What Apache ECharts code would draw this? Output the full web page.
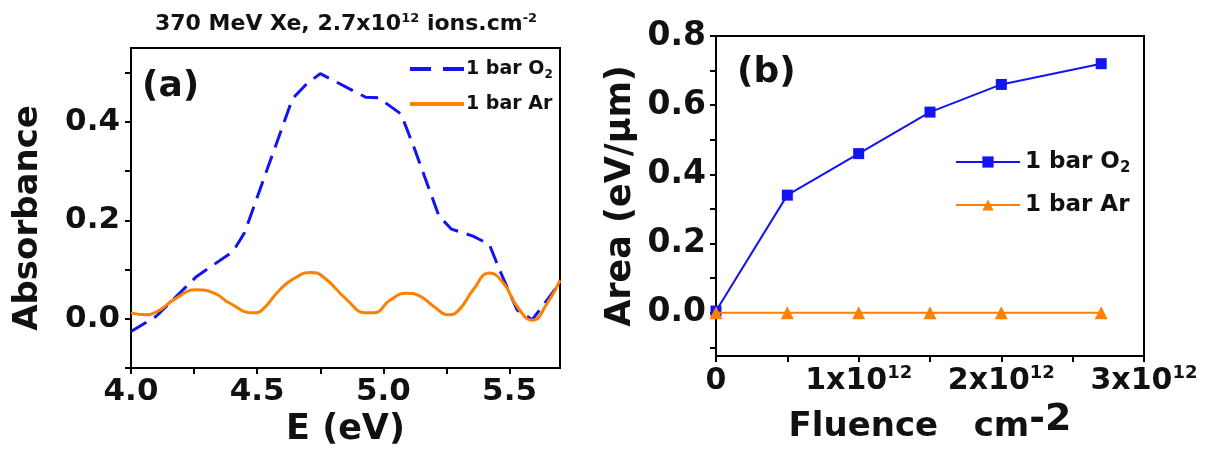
<!DOCTYPE html>
<html>
<head>
<meta charset="utf-8">
<script src="https://cdn.jsdelivr.net/npm/echarts@6/dist/echarts.min.js"></script>
<style>
html,body{margin:0;padding:0;background:#fff;}
#chart{width:1219px;height:452px;}
</style>
</head>
<body>
<div id="chart"></div>
<script>
// Panel (a): absorbance spectra
const energyO2 = [4.0, 4.10, 4.26, 4.405, 4.45, 4.54, 4.64, 4.69, 4.75, 4.93, 4.98, 5.07, 5.12, 5.22, 5.27, 5.355, 5.42, 5.46, 5.53, 5.59, 5.65, 5.69];
const absO2 = [-0.026, 0.005, 0.086, 0.137, 0.175, 0.304, 0.447, 0.474, 0.498, 0.45, 0.449, 0.416, 0.35, 0.209, 0.182, 0.168, 0.151, 0.10, 0.018, -0.002, 0.039, 0.066];
const energyAr = [4.0, 4.06, 4.115, 4.17, 4.26, 4.33, 4.39, 4.485, 4.52, 4.59, 4.66, 4.71, 4.76, 4.855, 4.93, 4.96, 5.03, 5.09, 5.145, 5.20, 5.26, 5.30, 5.356, 5.42, 5.475, 5.53, 5.59, 5.65, 5.70];
const absAr = [0.012, 0.008, 0.018, 0.039, 0.059, 0.052, 0.032, 0.012, 0.018, 0.059, 0.086, 0.094, 0.086, 0.039, 0.012, 0.012, 0.039, 0.052, 0.046, 0.025, 0.008, 0.018, 0.059, 0.093, 0.073, 0.025, -0.003, 0.032, 0.078];

// Panel (b): integrated area vs fluence
const fluence = [0, 0.5e12, 1e12, 1.5e12, 2e12, 2.7e12];
const areaO2 = [0.005, 0.34, 0.46, 0.58, 0.66, 0.72];
const areaAr = [0, 0, 0, 0, 0, 0];

// Tick labels
const ticksA_y = [0, 0.2, 0.4];
const ticksA_x = [4.0, 4.5, 5.0, 5.5];
const ticksB_y = [0, 0.2, 0.4, 0.6, 0.8];
const ticksB_x = [0, 1e12, 2e12, 3e12];

const FONT = 'DejaVu Sans';
const BLUE = '#1414f0';
const ORANGE = '#ff8000';

const zip = (xs, ys) => xs.map((x, i) => [x, ys[i]]);
const near = (v, arr) => arr.some(t => Math.abs(t - v) < 1e-9 * Math.max(1, Math.abs(t)));

const axisCommon = {
  axisLine: { show: true, onZero: false, lineStyle: { color: '#000', width: 2 } },
  axisTick: { show: true, inside: false, length: 6, lineStyle: { color: '#000', width: 2 } },
  splitLine: { show: false }
};

const chart = echarts.init(document.getElementById('chart'), null, { renderer: 'canvas' });

const option = {
  animation: false,
  backgroundColor: '#fff',
  title: {
    text: '370 MeV Xe, 2.7x10{sup|12} ions.cm{sup|-2}',
    left: 150, top: 7,
    textStyle: {
      fontFamily: FONT, fontWeight: 'bold', fontSize: 22, color: '#111', lineHeight: 24,
      rich: {
        sup: { fontFamily: FONT, fontWeight: 'bold', fontSize: 13, verticalAlign: 'top', lineHeight: 14, color: '#111' }
      }
    }
  },
  grid: [
    { left: 131, top: 48, width: 429, height: 320, show: true, borderColor: '#000', borderWidth: 2, containLabel: false },
    { left: 716, top: 36, width: 428, height: 320, show: true, borderColor: '#000', borderWidth: 2, containLabel: false }
  ],
  xAxis: [
    Object.assign({}, axisCommon, {
      type: 'value', gridIndex: 0, min: 4.0, max: 5.7, interval: 0.25,
      axisLabel: {
        showMaxLabel: false, margin: 8,
        fontFamily: FONT, fontWeight: 'bold', fontSize: 31, color: '#111',
        formatter: v => near(v, ticksA_x) ? v.toFixed(1) : ''
      },
      name: 'E (eV)', nameLocation: 'middle', nameGap: 44,
      nameTextStyle: { fontFamily: FONT, fontWeight: 'bold', fontSize: 35, color: '#111' }
    }),
    Object.assign({}, axisCommon, {
      type: 'value', gridIndex: 1, min: 0, max: 3e12, interval: 0.5e12,
      axisLabel: {
        margin: 8, fontFamily: FONT, fontWeight: 'bold', fontSize: 30, color: '#111',
        formatter: v => {
          if (!near(v, ticksB_x)) return '';
          if (v === 0) return '{m|0}';
          return '{m|' + Math.round(v / 1e12) + 'x10}{s|12}';
        },
        rich: {
          m: { fontFamily: FONT, fontWeight: 'bold', fontSize: 30, lineHeight: 34, color: '#111' },
          s: { fontFamily: FONT, fontWeight: 'bold', fontSize: 18, lineHeight: 20, verticalAlign: 'top', color: '#111' }
        }
      },
      name: '{m|Fluence   cm}{s|-2}', nameLocation: 'middle', nameGap: 36,
      nameTextStyle: {
        fontFamily: FONT, fontWeight: 'bold', fontSize: 34, color: '#111',
        rich: {
          m: { fontFamily: FONT, fontWeight: 'bold', fontSize: 34, lineHeight: 46, verticalAlign: 'bottom', color: '#111' },
          s: { fontFamily: FONT, fontWeight: 'bold', fontSize: 38, lineHeight: 46, verticalAlign: 'bottom', padding: [0, 0, 5, 0], color: '#111' }
        }
      }
    })
  ],
  yAxis: [
    Object.assign({}, axisCommon, {
      type: 'value', gridIndex: 0, min: -0.1, max: 0.55, interval: 0.1,
      axisLabel: {
        showMaxLabel: false, margin: 11,
        fontFamily: FONT, fontWeight: 'bold', fontSize: 31, color: '#111',
        formatter: v => near(v, ticksA_y) ? v.toFixed(1) : ''
      },
      name: 'Absorbance', nameLocation: 'middle', nameGap: 86, nameRotate: 90,
      nameTextStyle: { fontFamily: FONT, fontWeight: 'bold', fontSize: 34, color: '#111', padding: [0, 20, 0, 0] }
    }),
    Object.assign({}, axisCommon, {
      type: 'value', gridIndex: 1, min: -0.125, max: 0.8,
      axisTick: { show: true, length: 6, lineStyle: { color: '#000', width: 2 },
        customValues: [-0.1, 0, 0.1, 0.2, 0.3, 0.4, 0.5, 0.6, 0.7, 0.8] },
      axisLabel: {
        margin: 10, fontFamily: FONT, fontWeight: 'bold', fontSize: 33, color: '#111',
        customValues: ticksB_y,
        formatter: v => v.toFixed(1)
      },
      name: 'Area (eV/μm)', nameLocation: 'middle', nameGap: 78, nameRotate: 90,
      nameTextStyle: { fontFamily: FONT, fontWeight: 'bold', fontSize: 35, color: '#111' }
    })
  ],
  legend: [
    {
      orient: 'vertical', left: 405, top: 52, itemGap: 11, itemWidth: 54, itemHeight: 4,
      data: [
        { name: 'O2a', icon: 'path://M0,0H21V4H0ZM33,0H54V4H33Z' },
        { name: 'Ara', icon: 'path://M0,0H54V4H0Z' }
      ],
      formatter: n => n === 'O2a' ? '1 bar O{sub|2}' : '1 bar Ar',
      textStyle: {
        fontFamily: FONT, fontWeight: 'bold', fontSize: 19, lineHeight: 24, color: '#111', padding: [0, 0, 0, -3],
        rich: { sub: { fontFamily: FONT, fontWeight: 'bold', fontSize: 12, verticalAlign: 'bottom', lineHeight: 14, color: '#111' } }
      }
    },
    {
      orient: 'vertical', left: 950, top: 143, itemGap: 15, itemWidth: 64, itemHeight: 14,
      data: ['O2b', 'Arb'],
      formatter: n => n === 'O2b' ? '1 bar O{sub|2}' : '1 bar Ar',
      textStyle: {
        fontFamily: FONT, fontWeight: 'bold', fontSize: 23, lineHeight: 28, color: '#111',
        rich: { sub: { fontFamily: FONT, fontWeight: 'bold', fontSize: 15, verticalAlign: 'bottom', lineHeight: 16, color: '#111' } }
      }
    }
  ],
  graphic: [
    { type: 'text', left: 142, top: 69, style: { text: '(a)', fontFamily: FONT, fontWeight: 'bold', fontSize: 36, fill: '#111' } },
    { type: 'text', left: 737, top: 55, style: { text: '(b)', fontFamily: FONT, fontWeight: 'bold', fontSize: 36, fill: '#111' } }
  ],
  series: [
    {
      name: 'O2a', type: 'line', xAxisIndex: 0, yAxisIndex: 0,
      data: zip(energyO2, absO2), symbol: 'none', smooth: false,
      lineStyle: { color: BLUE, width: 3, type: [18, 9] }, itemStyle: { color: BLUE }, z: 2
    },
    {
      name: 'Ara', type: 'line', xAxisIndex: 0, yAxisIndex: 0,
      data: zip(energyAr, absAr), symbol: 'none', smooth: 0.5,
      lineStyle: { color: ORANGE, width: 3 }, itemStyle: { color: ORANGE }, z: 3
    },
    {
      name: 'O2b', type: 'line', xAxisIndex: 1, yAxisIndex: 1,
      data: zip(fluence, areaO2), symbol: 'rect', symbolSize: 11,
      lineStyle: { color: BLUE, width: 2 }, itemStyle: { color: BLUE }, z: 2
    },
    {
      name: 'Arb', type: 'line', xAxisIndex: 1, yAxisIndex: 1,
      data: zip(fluence, areaAr), symbol: 'triangle', symbolSize: 13,
      lineStyle: { color: ORANGE, width: 2 }, itemStyle: { color: ORANGE }, z: 3
    }
  ]
};

chart.setOption(option);
</script>
</body>
</html>
